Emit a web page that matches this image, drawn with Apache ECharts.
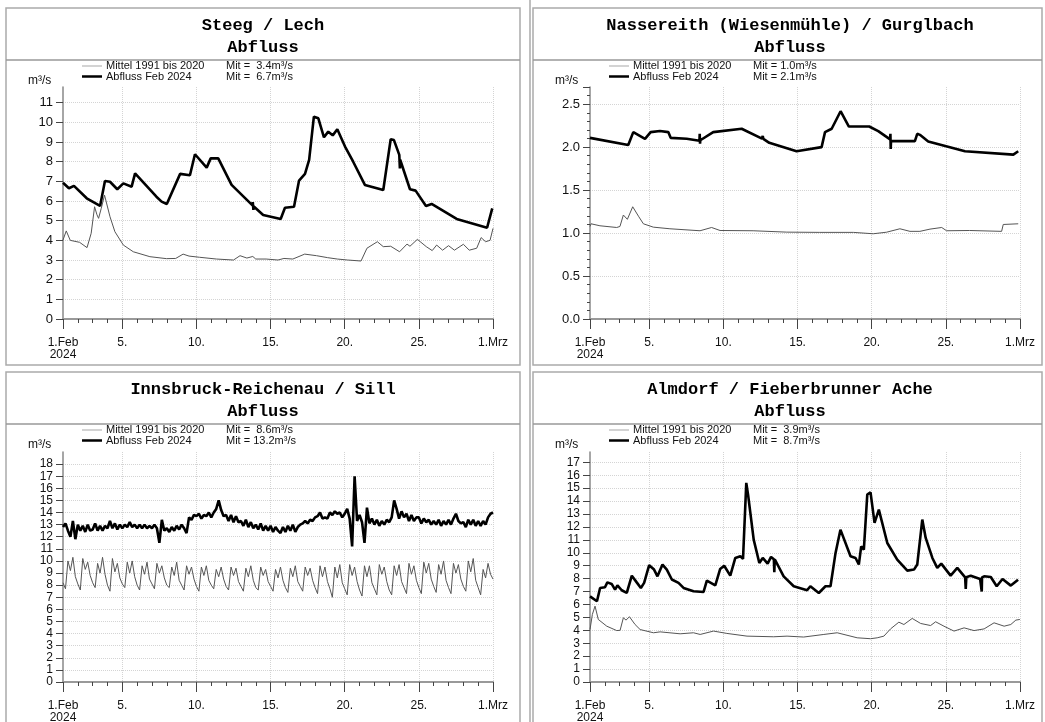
<!DOCTYPE html>
<html>
<head>
<meta charset="utf-8">
<script src="https://cdn.jsdelivr.net/npm/echarts@6.0.0/dist/echarts.min.js"></script>
<style>
html, body { margin: 0; padding: 0; background: #fff; }
#main { width: 1045px; height: 722px; }
</style>
</head>
<body>
<div id="main"></div>
<script>
//Day labels of the x axis (index 0 = 1.Feb, index 29 = 1.Mrz).
const dayLabels = ['1.Feb\n2024', '', '', '', '5.', '', '', '', '', '10.', '', '', '', '', '15.',
                   '', '', '', '', '20.', '', '', '', '', '25.', '', '', '', '', '1.Mrz'];
const labelDays = [0, 4, 9, 14, 19, 24, 29];
const gridDays  = [4, 9, 14, 19, 24, 29];

const titles    = ['Steeg / Lech', 'Nassereith (Wiesenmühle) / Gurglbach', 'Innsbruck-Reichenau / Sill', 'Almdorf / Fieberbrunner Ache'];
const meanTexts = ['Mit =  3.4m³/s', 'Mit = 1.0m³/s', 'Mit =  8.6m³/s', 'Mit =  3.9m³/s'];
const febTexts  = ['Mit =  6.7m³/s', 'Mit = 2.1m³/s', 'Mit = 13.2m³/s', 'Mit =  8.7m³/s'];
const yMax      = [11.8, 2.7, 19, 17.8];
const yStep     = [1, 0.5, 1, 1];

//Steeg / Lech  [day, m3/s]
const steegMean = [[0,4.02],[0.22,4.48],[0.49,4.0],[1.12,3.9],[1.62,3.63],[1.9,4.36],[2.13,5.71],[2.29,5.3],[2.4,5.12],
  [2.58,5.63],[2.8,6.3],[3.17,5.2],[3.5,4.44],[4.07,3.76],[4.74,3.42],[5.86,3.17],[6.98,3.07],[7.6,3.08],[8.1,3.3],
  [8.5,3.2],[9.2,3.14],[10.35,3.05],[11.5,3.0],[11.94,3.22],[12.4,3.1],[12.8,3.18],[13.0,3.05],[13.7,3.05],[14.5,3.0],
  [14.9,3.08],[15.5,3.05],[16.3,3.3],[17.1,3.22],[17.85,3.12],[18.5,3.05],[19.2,3.0],[20.1,2.95],[20.5,3.6],[21.2,3.93],
  [21.6,3.68],[22.1,3.7],[22.7,3.42],[23.2,3.81],[23.4,3.7],[23.9,4.05],[24.5,3.68],[24.9,3.48],[25.2,3.76],[25.6,3.5],
  [26.0,3.73],[26.4,3.5],[27.0,3.8],[27.4,3.5],[27.9,3.6],[28.2,4.14],[28.5,3.93],[28.8,4.0],[29.0,4.61]];
const steegFeb = [[0,6.93],[0.4,6.65],[0.74,6.77],[1.6,6.14],[2.5,5.75],[2.83,7.02],[3.17,6.98],[3.66,6.6],[4.07,6.9],
  [4.63,6.73],[4.86,7.41],[6.3,6.22],[6.65,5.97],[7.0,5.85],[7.9,7.38],[8.56,7.31],[8.9,8.38],[9.69,7.7],[9.96,8.17],
  [10.47,8.17],[11.37,6.82],[12.78,5.78],[12.8,5.95],[12.84,5.55],[12.87,5.72],[13.5,5.29],[14.68,5.09],[14.97,5.66],
  [15.58,5.71],[15.92,7.04],[16.32,7.38],[16.6,8.09],[16.92,10.29],[17.22,10.21],[17.6,9.24],[17.89,9.53],[18.19,9.34],
  [18.5,9.65],[19.02,8.77],[19.57,8.0],[20.36,6.82],[21.6,6.56],[22.1,9.14],[22.32,9.1],[22.68,8.35],[22.7,8.3],
  [22.72,7.66],[22.74,8.1],[23.4,6.6],[23.78,6.53],[24.48,5.75],[24.86,5.85],[26.55,5.09],[28.6,4.64],[28.95,5.63]];

//Nassereith (Wiesenmühle) / Gurglbach
const nassMean = [[0,1.077],[0.07,1.108],[0.67,1.085],[1.8,1.065],[2.02,1.077],[2.25,1.21],[2.52,1.16],[2.88,1.306],
  [3.27,1.196],[3.6,1.108],[4.27,1.069],[5.39,1.05],[7.42,1.027],[8.2,1.065],[8.77,1.03],[11.0,1.027],[13.27,1.011],
  [15.5,1.008],[17.76,1.008],[19.1,0.992],[20.0,1.01],[20.9,1.05],[21.58,1.02],[22.25,1.02],[22.93,1.046],[23.72,1.065],
  [24.05,1.027],[25.6,1.03],[27.76,1.02],[27.87,1.1],[28.88,1.108]];
const nassFeb = [[0,2.108],[2.58,2.026],[2.92,2.175],[3.71,2.097],[4.09,2.175],[4.72,2.187],[5.28,2.175],[5.44,2.108],
  [6.52,2.097],[7.38,2.075],[7.4,2.156],[7.42,2.04],[7.44,2.08],[8.31,2.175],[10.23,2.214],[11.6,2.1],[11.65,2.13],
  [11.69,2.097],[12.09,2.05],[13.93,1.952],[15.62,2.0],[15.85,2.175],[16.3,2.214],[16.9,2.418],[17.46,2.24],[18.83,2.24],
  [19.44,2.187],[20.24,2.09],[20.26,2.156],[20.28,1.98],[20.3,2.07],[21.91,2.07],[22.07,2.155],[22.25,2.143],
  [22.81,2.065],[25.29,1.952],[28.55,1.913],[28.88,1.952]];

//Innsbruck-Reichenau / Sill, one value every 4 hours
const sillStep = 1 / 6;
const sillMean = [
  8.2, 7.7, 10.0, 9.2, 10.3, 8.7,   8.1, 7.6, 10.2, 9.3, 9.9, 8.8,   8.2, 7.8, 9.8, 9.0, 10.3, 8.9,
  8.0, 7.5, 10.2, 9.1, 9.8, 8.6,    8.1, 7.8, 9.9, 9.0, 10.0, 8.7,   8.0, 7.6, 9.6, 8.9, 9.9, 8.5,
  8.1, 7.7, 9.8, 9.0, 9.6, 8.6,     8.0, 7.8, 9.5, 8.8, 9.9, 8.4,    8.0, 7.6, 9.6, 8.9, 9.5, 8.5,
  7.9, 7.5, 9.5, 8.8, 9.6, 8.4,     8.0, 7.7, 9.3, 8.7, 9.5, 8.5,    7.9, 7.6, 9.5, 8.8, 9.4, 8.3,
  7.9, 7.5, 9.4, 8.7, 9.6, 8.4,     7.8, 7.6, 9.5, 8.8, 9.3, 8.3,    7.9, 7.5, 9.3, 8.6, 9.5, 8.4,
  7.8, 7.4, 9.4, 8.7, 9.6, 8.3,     7.9, 7.5, 9.5, 8.8, 9.4, 8.4,    7.8, 7.3, 9.6, 8.7, 9.5, 8.3,
  7.7, 7.0, 9.5, 8.6, 9.7, 8.2,     7.7, 7.2, 9.7, 8.8, 9.5, 8.3,    7.6, 7.1, 9.6, 8.7, 9.6, 8.2,
  7.7, 7.2, 9.7, 8.9, 9.5, 8.3,     7.6, 7.2, 9.6, 8.8, 9.7, 8.3,    7.8, 7.3, 9.8, 8.9, 9.6, 8.4,
  7.8, 7.3, 9.9, 9.0, 9.8, 8.5,     7.9, 7.4, 9.7, 8.9, 10.0, 8.4,   7.8, 7.3, 9.8, 9.0, 9.7, 8.5,
  7.9, 7.5, 10.0, 9.1, 10.2, 8.4,   7.8, 7.2, 9.3, 8.6, 9.8, 8.9,    8.5];
const sillFeb = [
  12.8, 13.1, 12.5, 12.0, 13.3, 11.8,   13.0, 12.5, 12.9, 12.4, 13.0, 12.5,   12.6, 13.1, 12.5, 12.9, 12.5, 12.9,
  12.7, 13.3, 12.7, 13.1, 12.6, 13.0,   12.7, 13.0, 12.8, 13.2, 12.8, 13.0,   12.7, 13.0, 12.7, 13.0, 12.7, 12.9,
  12.7, 13.0, 12.7, 11.5, 13.4, 12.5,   12.7, 12.4, 12.8, 12.5, 12.9, 12.6,   13.0, 12.7, 12.3, 13.6, 13.4, 13.8,
  13.7, 13.9, 13.5, 13.8, 13.7, 14.0,   13.6, 14.0, 14.3, 15.0, 14.2, 13.7,   13.8, 13.3, 13.8, 13.2, 13.7, 13.2,
  13.3, 12.9, 13.4, 12.8, 13.2, 12.7,   13.0, 12.6, 13.1, 12.5, 12.9, 12.5,   12.9, 12.4, 12.8, 12.5, 12.3, 12.8,
  12.4, 12.9, 12.5, 13.0, 12.4, 12.8,   13.0, 13.1, 13.3, 13.1, 13.4, 13.3,   13.6, 13.7, 14.0, 13.5, 13.6, 13.5,
  14.0, 13.8, 14.1, 13.9, 14.0, 13.6,   13.9, 14.3, 13.5, 11.2, 17.0, 13.3,   13.8, 13.2, 11.5, 14.4, 13.1, 13.5,
  13.0, 13.4, 12.9, 13.3, 13.0, 13.4,   13.2, 13.6, 15.0, 14.3, 13.5, 14.1,   13.6, 13.9, 13.3, 13.8, 13.3, 13.6,
  13.6, 13.1, 13.5, 13.2, 13.4, 13.0,   13.3, 13.0, 13.4, 12.9, 13.3, 13.0,   13.4, 13.0, 13.5, 13.9, 13.3, 13.1,
  13.2, 12.8, 13.4, 13.0, 13.4, 12.9,   13.3, 12.9, 13.3, 13.0, 13.6, 13.9,   14.0];

//Almdorf / Fieberbrunner Ache
const almMean = [[0,4.06],[0.16,5.23],[0.34,5.87],[0.56,4.84],[1.13,4.32],[1.8,3.98],[2.03,4.0],[2.25,4.97],[2.43,4.79],
  [2.66,5.05],[3.04,4.45],[3.38,4.06],[4.28,3.81],[4.73,3.88],[6.08,3.73],[6.98,3.81],[7.43,3.68],[8.33,3.94],[9.23,3.76],
  [10.59,3.55],[12.39,3.5],[13.29,3.55],[14.41,3.48],[15.77,3.68],[16.67,3.81],[18.02,3.42],[18.92,3.35],[19.37,3.42],
  [19.82,3.55],[20.27,4.11],[20.83,4.63],[21.17,4.45],[21.73,4.92],[22.3,4.53],[22.97,4.37],[23.31,4.66],[23.87,4.32],
  [24.55,3.94],[25.23,4.19],[25.9,3.98],[26.58,4.11],[27.25,4.58],[27.93,4.32],[28.38,4.45],[28.72,4.79],[28.99,4.84]];
const almFeb = [[0,6.63],[0.47,6.25],[0.68,7.28],[1.01,7.33],[1.17,7.71],[1.46,7.59],[1.69,7.15],[1.85,7.48],[2.14,7.1],
  [2.48,6.89],[2.82,8.23],[3.15,7.71],[3.43,7.28],[3.65,7.67],[3.99,9.04],[4.32,8.7],[4.55,8.18],[4.89,9.09],[5.18,8.7],
  [5.52,7.93],[5.97,7.67],[6.31,7.28],[6.98,7.02],[7.66,6.97],[7.88,7.84],[8.45,7.48],[8.78,8.75],[9.05,9.0],[9.46,8.23],
  [9.8,9.6],[10.14,9.73],[10.32,9.53],[10.54,15.41],[10.66,14.5],[11.04,11.02],[11.42,9.21],[11.65,9.6],[11.98,9.16],
  [12.21,9.68],[12.4,9.5],[12.43,8.49],[12.46,9.5],[12.55,9.47],[13.06,8.18],[13.74,7.41],[14.64,7.1],[14.86,7.41],
  [15.43,6.89],[15.88,7.41],[16.22,7.41],[16.56,9.99],[16.89,11.79],[17.57,9.73],[17.91,9.6],[18.13,9.09],[18.29,10.5],
  [18.47,10.25],[18.7,14.5],[18.92,14.68],[19.19,12.31],[19.48,13.34],[20.05,10.76],[20.72,9.47],[21.4,8.62],[21.85,8.7],
  [22.07,9.09],[22.41,12.57],[22.64,11.15],[23.09,9.6],[23.42,8.83],[23.69,9.16],[24.32,8.23],[24.77,8.83],[25.3,8.1],
  [25.34,7.2],[25.38,8.1],[25.68,8.23],[26.31,7.97],[26.4,8.0],[26.42,7.0],[26.44,8.1],[26.58,8.18],[27.03,8.13],
  [27.43,7.41],[27.82,7.97],[28.38,7.46],[28.87,7.92]];

const meanSeries = [steegMean, nassMean, sillMean.map((v, i) => [i * sillStep, v]), almMean];
const febSeries  = [steegFeb, nassFeb, sillFeb.map((v, i) => [i * sillStep, v]), almFeb];

const FONT = '"Liberation Sans", Arial, sans-serif';
const MONO = '"Liberation Mono", "Courier New", monospace';

function isLabelDay(idx){ return labelDays.indexOf(idx) >= 0; }
function isGridDay(idx){ return gridDays.indexOf(idx) >= 0; }

function buildChart(){
    let chart = echarts.init(document.getElementById('main'), null, {renderer: 'canvas'});

    //Panel offsets: top-left, top-right, bottom-left, bottom-right.
    let offsets = [[0, 0], [527, 0], [0, 364], [527, 364]];
    let grids = [], xAxes = [], yAxes = [], series = [], graphics = [];

    //Outer vertical line between the two columns.
    graphics.push({type: 'line', shape: {x1: 530, y1: 0, x2: 530, y2: 722}, style: {stroke: '#aaa', lineWidth: 1.5}});

    for (let i = 0; i < 4; i++){
        let ox = offsets[i][0], oy = offsets[i][1];
        let bottomRow = i >= 2;
        let boxW = (i % 2 === 0) ? 514 : 509;

        //Frame, title and separator.
        graphics.push({type: 'rect', shape: {x: 6 + ox, y: 8 + oy, width: boxW, height: bottomRow ? 400 : 357},
            style: {fill: 'none', stroke: '#aaa', lineWidth: 1.5}});
        graphics.push({type: 'line', shape: {x1: 6 + ox, y1: 60 + oy, x2: 6 + ox + boxW, y2: 60 + oy},
            style: {stroke: '#999', lineWidth: 1.5}});
        graphics.push({type: 'text', x: 263 + ox, y: 26 + oy,
            style: {text: titles[i], font: 'bold 17px ' + MONO, fill: '#000', align: 'center', verticalAlign: 'middle'}});
        graphics.push({type: 'text', x: 263 + ox, y: 48 + oy,
            style: {text: 'Abfluss', font: 'bold 17px ' + MONO, fill: '#000', align: 'center', verticalAlign: 'middle'}});

        //Legend.
        graphics.push({type: 'line', shape: {x1: 82 + ox, y1: 66 + oy, x2: 102 + ox, y2: 66 + oy}, style: {stroke: '#c4c4c4', lineWidth: 1.5}});
        graphics.push({type: 'line', shape: {x1: 82 + ox, y1: 76.5 + oy, x2: 102 + ox, y2: 76.5 + oy}, style: {stroke: '#000', lineWidth: 2.5}});
        let legendRows = [['Mittel 1991 bis 2020', meanTexts[i], 66], ['Abfluss Feb 2024', febTexts[i], 77]];
        for (let r = 0; r < 2; r++){
            graphics.push({type: 'text', x: 106 + ox, y: legendRows[r][2] + oy,
                style: {text: legendRows[r][0], font: '11px ' + FONT, fill: '#111', align: 'left', verticalAlign: 'middle'}});
            graphics.push({type: 'text', x: 226 + ox, y: legendRows[r][2] + oy,
                style: {text: legendRows[r][1], font: '11px ' + FONT, fill: '#111', align: 'left', verticalAlign: 'middle'}});
        }
        graphics.push({type: 'text', x: 28 + ox, y: 81 + oy,
            style: {text: 'm³/s', font: '12px ' + FONT, fill: '#111', align: 'left', verticalAlign: 'middle'}});

        //Plot area.
        grids.push({left: 63 + ox, top: bottomRow ? 452 : 87, width: 430, height: bottomRow ? 230 : 232,
            containLabel: false, outerBoundsMode: 'none'});

        //Data axis with a tick per day.
        xAxes.push({
            type: 'value', gridIndex: i, min: 0, max: 29, interval: 1, position: 'bottom',
            axisLine: {show: true, onZero: false, lineStyle: {color: '#999', width: 2}},
            axisTick: {show: true, length: 4, lineStyle: {color: '#444'}},
            axisLabel: {show: false},
            splitLine: {show: false}
        });
        //Label axis with the long ticks and the vertical grid lines.
        xAxes.push({
            type: 'category', gridIndex: i, data: dayLabels, boundaryGap: false, position: 'bottom',
            axisLine: {show: false},
            axisTick: {show: true, length: 10, interval: isLabelDay, lineStyle: {color: '#444'}},
            axisLabel: {interval: isLabelDay, margin: 18, fontSize: 12, lineHeight: 12, color: '#111', fontFamily: FONT},
            splitLine: {show: true, interval: isGridDay, lineStyle: {color: '#d4d4d4', type: 'dotted'}}
        });

        let decimals = (yStep[i] < 1) ? 1 : 0;
        yAxes.push({
            type: 'value', gridIndex: i, min: 0, max: yMax[i], interval: yStep[i],
            axisLine: {show: true, lineStyle: {color: '#888', width: 1.5}},
            axisTick: {show: true, length: 7, lineStyle: {color: '#444'}},
            minorTick: {show: i === 1, splitNumber: 5, length: 3, lineStyle: {color: '#444'}},
            axisLabel: {showMaxLabel: false, margin: 10, fontSize: bottomRow ? 12 : 13, color: '#111', fontFamily: FONT,
                formatter: function (v){ return v.toFixed(decimals); }},
            splitLine: {show: true, showMaxLine: false, lineStyle: {color: '#d4d4d4', type: 'dotted'}}
        });

        series.push({
            type: 'line', xAxisIndex: 2 * i, yAxisIndex: i, data: meanSeries[i],
            showSymbol: false, lineStyle: {color: '#555', width: 1}, z: 2
        });
        series.push({
            type: 'line', xAxisIndex: 2 * i, yAxisIndex: i, data: febSeries[i],
            showSymbol: false, lineStyle: {color: '#000', width: 2.6}, z: 3
        });
    }

    chart.setOption({
        animation: false,
        backgroundColor: '#fff',
        grid: grids,
        xAxis: xAxes,
        yAxis: yAxes,
        series: series,
        graphic: {elements: graphics}
    });
    return chart;
}

//Call function to create the chart.
buildChart();
</script>
</body>
</html>
